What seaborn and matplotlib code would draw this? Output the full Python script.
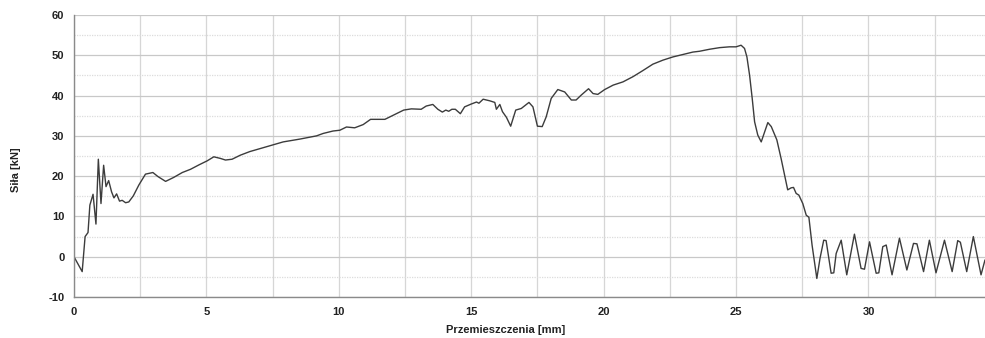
import matplotlib
matplotlib.use("Agg")
import matplotlib.pyplot as plt
from matplotlib.ticker import MultipleLocator
import seaborn as sns
import pandas as pd

# Displacement [mm]
displacement = [
    0.0, 0.31, 0.42, 0.53, 0.60, 0.72, 0.83, 0.92, 1.02, 1.12, 1.21, 1.31, 1.42, 1.51,
    1.61, 1.72, 1.82, 1.95, 2.07, 2.24, 2.45, 2.70, 2.98, 3.17, 3.46, 3.77, 4.09, 4.40,
    4.72, 5.03, 5.28, 5.53, 5.72, 5.97, 6.28, 6.64, 7.27, 7.90, 8.53, 9.16, 9.41, 9.78,
    10.04, 10.29, 10.60, 10.92, 11.20, 11.48, 11.74, 12.11, 12.45, 12.74, 13.11, 13.30,
    13.55, 13.74, 13.91, 14.04, 14.15, 14.27, 14.40, 14.59, 14.75, 15.00, 15.20, 15.29,
    15.45, 15.70, 15.89, 15.95, 16.08, 16.18, 16.33, 16.49, 16.68, 16.89, 17.18, 17.33,
    17.50, 17.68, 17.83, 18.02, 18.27, 18.53, 18.78, 18.96, 19.15, 19.43, 19.60, 19.78,
    20.04, 20.36, 20.73, 21.11, 21.48, 21.86, 22.24, 22.62, 22.99, 23.37, 23.62, 24.00,
    24.38, 24.75, 25.00, 25.19, 25.32, 25.41, 25.51, 25.61, 25.70, 25.82, 25.95, 26.08,
    26.20, 26.33, 26.54, 26.70, 26.83, 26.95, 27.08, 27.17, 27.27, 27.37, 27.52, 27.65,
    27.75, 27.87, 28.05, 28.17, 28.31, 28.40, 28.59, 28.69, 28.78, 28.97, 29.18, 29.47,
    29.72, 29.85, 30.04, 30.29, 30.39, 30.54, 30.67, 30.89, 31.17, 31.45, 31.70, 31.83,
    32.08, 32.30, 32.55, 32.87, 33.16, 33.37, 33.47, 33.71, 33.96, 34.25, 34.40,
]

# Force [kN]
force = [
    0.0, -3.7, 5.0, 6.0, 12.8, 15.5, 8.1, 24.2, 13.2, 22.7, 17.4, 18.9, 16.1, 14.6,
    15.6, 13.8, 14.0, 13.4, 13.6, 15.1, 17.8, 20.5, 20.9, 19.9, 18.7, 19.7, 20.9, 21.7,
    22.8, 23.8, 24.8, 24.4, 24.0, 24.2, 25.2, 26.1, 27.3, 28.5, 29.2, 30.0, 30.6, 31.2,
    31.4, 32.2, 32.0, 32.8, 34.1, 34.1, 34.1, 35.3, 36.4, 36.7, 36.6, 37.4,
    37.8, 36.6, 35.9, 36.4, 36.1, 36.6, 36.6, 35.5, 37.2, 37.9, 38.4, 38.1,
    39.1, 38.7, 38.3, 36.6, 37.8, 36.0, 34.6, 32.4, 36.4, 36.8, 38.3, 37.2,
    32.4, 32.3, 34.7, 39.3, 41.5, 40.9, 38.9, 38.9, 40.1, 41.7, 40.5, 40.3,
    41.5, 42.6, 43.4, 44.7, 46.2, 47.8, 48.8, 49.6, 50.2, 50.8, 51.0, 51.5,
    51.9, 52.1, 52.1, 52.5, 51.7, 49.6, 45.1, 39.3, 33.5, 30.2, 28.5, 31.0,
    33.3, 32.3, 29.0, 24.4, 20.3, 16.6, 17.1, 17.2, 15.7, 15.3, 13.2, 10.3,
    9.8, 2.9, -5.4, -0.4, 4.1, 4.0, -4.1, -4.0, 0.8, 4.1, -4.5, 5.6,
    -2.9, -3.1, 3.7, -4.1, -4.0, 2.5, 2.9, -4.5, 4.6, -3.3, 3.3, 3.2,
    -3.7, 4.1, -4.0, 4.1, -3.7, 4.0, 3.6, -3.7, 5.0, -4.5, -0.8,
]

x_ticks = [0, 5, 10, 15, 20, 25, 30]
y_ticks = [-10, 0, 10, 20, 30, 40, 50, 60]

df = pd.DataFrame({"Przemieszczenia [mm]": displacement, "Siła [kN]": force})

sns.set_style("white")
plt.rcParams["font.family"] = ["Liberation Sans", "DejaVu Sans"]
plt.rcParams["axes.unicode_minus"] = False

fig = plt.figure(figsize=(9.85, 3.38), dpi=100)
ax = fig.add_axes([0.0751, 0.1213, 0.9249, 0.8343])

sns.lineplot(data=df, x="Przemieszczenia [mm]", y="Siła [kN]", ax=ax,
             color="#3c3c3c", linewidth=1.0, sort=False, estimator=None)

ax.set_xlim(0, 34.4)
ax.set_ylim(-10, 60)
ax.set_xticks(x_ticks)
ax.set_yticks(y_ticks)
ax.xaxis.set_minor_locator(MultipleLocator(2.5))
ax.yaxis.set_minor_locator(MultipleLocator(5))

ax.grid(True, which="major", axis="y", color="#c8c8c8", linewidth=0.9)
ax.grid(True, which="minor", axis="y", color="#dcdcdc", linewidth=0.9, linestyle=(0, (1, 1)))
ax.grid(True, which="both", axis="x", color="#d6d6d6", linewidth=0.9)

for s in ["top", "right"]:
    ax.spines[s].set_visible(False)
for s in ["left", "bottom"]:
    ax.spines[s].set_color("#8a8a8a")
    ax.spines[s].set_linewidth(1.0)

ax.tick_params(axis="both", which="major", length=3, color="#8a8a8a",
               labelsize=8, pad=4)
ax.tick_params(axis="both", which="minor", length=0)
for lab in ax.get_xticklabels() + ax.get_yticklabels():
    lab.set_fontweight("bold")
    lab.set_color("#222222")

ax.set_xlabel("Przemieszczenia [mm]", fontsize=8, fontweight="bold", color="#222222")
ax.set_ylabel("Siła [kN]", fontsize=8, fontweight="bold", color="#222222")
ax.xaxis.set_label_coords(0.474, -0.1)
ax.yaxis.set_label_coords(-0.058, 0.45)

fig.savefig("out.png", dpi=100)
